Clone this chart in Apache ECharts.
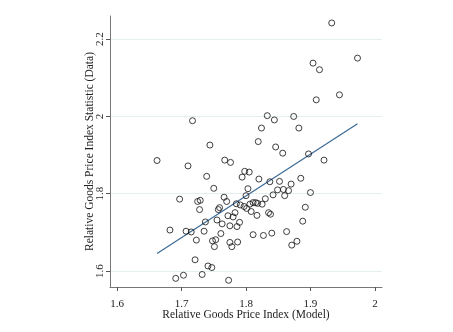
<!DOCTYPE html>
<html><head><meta charset="utf-8">
<script src="https://cdn.jsdelivr.net/npm/echarts@6/dist/echarts.min.js"></script>
<style>html,body{margin:0;padding:0;background:#fff}#c{width:453px;height:332px}</style>
</head><body><div id="c"></div>
<script>
const modelX = [1.933,1.973,1.904,1.914,1.945,1.909,1.833,1.844,1.874,1.824,1.882,1.819,1.846,1.717,1.744,1.662,1.710,1.767,1.776,1.739,1.798,1.805,1.794,1.820,1.750,1.803,1.697,1.725,1.729,1.766,1.770,1.800,1.785,1.791,1.797,1.806,1.811,1.815,1.818,1.728,1.757,1.759,1.772,1.780,1.783,1.790,1.786,1.775,1.737,1.763,1.755,1.682,1.707,1.715,1.735,1.761,1.723,1.748,1.753,1.751,1.775,1.778,1.787,1.721,1.741,1.747,1.691,1.703,1.732,1.773,1.801,1.808,1.817,1.857,1.897,1.921,1.885,1.837,1.852,1.870,1.849,1.858,1.866,1.842,1.860,1.900,1.830,1.825,1.892,1.835,1.838,1.888,1.811,1.827,1.840,1.863,1.871,1.879];
const dataY = [2.242,2.151,2.138,2.121,2.056,2.043,2.002,1.991,2.000,1.970,1.970,1.935,1.921,1.989,1.926,1.886,1.872,1.887,1.881,1.845,1.858,1.856,1.843,1.838,1.814,1.813,1.786,1.780,1.783,1.791,1.780,1.795,1.774,1.771,1.767,1.773,1.777,1.777,1.775,1.759,1.759,1.764,1.743,1.740,1.751,1.726,1.715,1.717,1.727,1.722,1.732,1.706,1.703,1.701,1.703,1.697,1.680,1.678,1.681,1.663,1.674,1.663,1.675,1.629,1.613,1.609,1.581,1.589,1.591,1.576,1.762,1.754,1.744,1.905,1.903,1.887,1.840,1.831,1.832,1.825,1.810,1.811,1.808,1.797,1.795,1.803,1.787,1.773,1.765,1.751,1.747,1.729,1.694,1.692,1.698,1.702,1.667,1.677];
const fitX = [1.662, 1.973];
const fitY = [1.645, 1.981];
const xTicks = [1.6, 1.7, 1.8, 1.9, 2.0];
const yTicks = [1.6, 1.8, 2.0, 2.2];
const xTickLabels = ['1.6', '1.7', '1.8', '1.9', '2'];
const yTickLabels = ['1.6', '1.8', '2', '2.2'];

const pts = modelX.map((x, i) => [x, dataY[i]]);
const fit = fitX.map((x, i) => [x, fitY[i]]);
const font = 'Liberation Serif';
const chart = echarts.init(document.getElementById('c'), null, {renderer: 'canvas'});
chart.setOption({
  animation: false,
  backgroundColor: '#fff',
  grid: {left: 110, right: 71, top: 16, bottom: 45, containLabel: false},
  xAxis: {
    type: 'value', min: 1.589, max: 2.011,
    name: 'Relative Goods Price Index (Model)', nameLocation: 'middle', nameGap: 22, nameMoveOverlap: false,
    nameTextStyle: {fontFamily: font, fontSize: 11.5, color: '#222'},
    axisLine: {show: true, onZero: false, lineStyle: {color: '#777', width: 1}},
    axisTick: {show: true, length: 4, customValues: xTicks, lineStyle: {color: '#555'}},
    axisLabel: {customValues: xTicks, fontFamily: font, fontSize: 11, color: '#222', margin: 12,
      formatter: v => xTickLabels[xTicks.findIndex(t => Math.abs(t - v) < 1e-6)]},
    splitLine: {show: false}
  },
  yAxis: {
    type: 'value', min: 1.5586, max: 2.26,
    name: 'Relative Goods Price Index Statistic (Data)', nameLocation: 'middle', nameGap: 14, nameMoveOverlap: false,
    nameTextStyle: {fontFamily: font, fontSize: 11.5, color: '#222'},
    axisLine: {show: true, onZero: false, lineStyle: {color: '#777', width: 1}},
    axisTick: {show: true, length: 4, customValues: yTicks, lineStyle: {color: '#555'}},
    axisLabel: {customValues: yTicks, rotate: 90, fontFamily: font, fontSize: 11, color: '#222', margin: 4,
      formatter: v => yTickLabels[yTicks.findIndex(t => Math.abs(t - v) < 1e-6)]},
    splitLine: {show: true, lineStyle: {color: '#e6eff0', width: 1}}
  },
  series: [
    {type: 'scatter', data: pts, symbol: 'circle', symbolSize: 6,
      itemStyle: {color: 'rgba(255,255,255,0)', borderColor: '#111', borderWidth: 1}, z: 3},
    {type: 'line', data: fit, symbol: 'none', lineStyle: {color: '#3b6a95', width: 1.2}, z: 2}
  ]
});
</script></body></html>
